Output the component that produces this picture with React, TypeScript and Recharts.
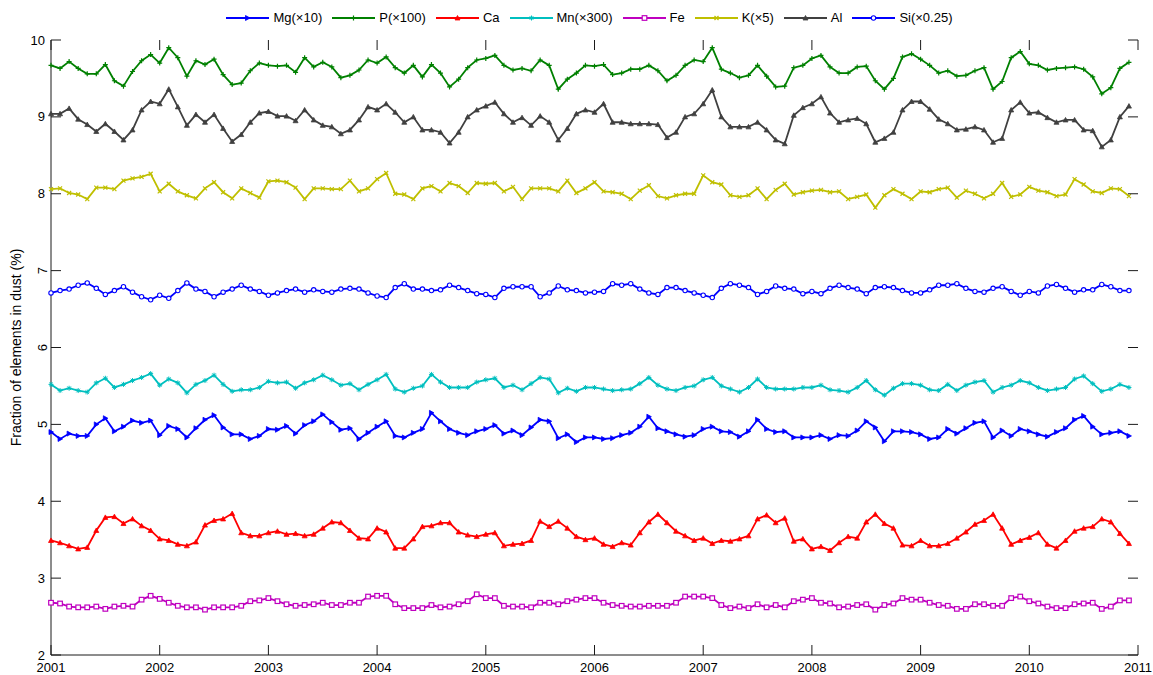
import React from 'react';
import { Line, LineChart, XAxis, YAxis } from 'recharts';

// monthly values, Jan 2001 .. Dec 2010
const MG = [
	4.90, 4.81, 4.88, 4.85, 4.85, 5.00, 5.08, 4.91, 4.97, 5.05, 5.02, 5.05, 4.86, 4.98, 4.94, 4.83, 4.95, 5.06, 5.12, 4.96, 4.87, 4.87, 4.81, 4.85, 4.94, 4.93, 4.98, 4.88, 4.99, 5.04, 5.13,
	5.03, 4.93, 4.95, 4.81, 4.89, 4.97, 5.04, 4.85, 4.83, 4.89, 4.94, 5.15, 5.04, 4.94, 4.89, 4.86, 4.91, 4.94, 4.99, 4.88, 4.92, 4.86, 4.96, 5.06, 5.04, 4.82, 4.87, 4.77, 4.83, 4.83, 4.81,
	4.82, 4.86, 4.89, 4.97, 5.10, 4.95, 4.91, 4.87, 4.84, 4.86, 4.94, 4.97, 4.91, 4.90, 4.84, 4.91, 5.06, 4.94, 4.90, 4.91, 4.83, 4.83, 4.83, 4.86, 4.81, 4.86, 4.85, 4.92, 5.04, 4.96, 4.78,
	4.91, 4.91, 4.90, 4.87, 4.81, 4.83, 4.94, 4.88, 4.95, 5.02, 5.04, 4.83, 4.92, 4.85, 4.94, 4.91, 4.87, 4.84, 4.90, 4.95, 5.06, 5.11, 4.97, 4.87, 4.89, 4.91, 4.85,
];
const P = [
	9.67, 9.63, 9.72, 9.63, 9.56, 9.56, 9.68, 9.47, 9.40, 9.59, 9.73, 9.81, 9.70, 9.90, 9.77, 9.53, 9.73, 9.68, 9.75, 9.55, 9.42, 9.44, 9.60, 9.70, 9.67, 9.66, 9.67, 9.58, 9.77, 9.65, 9.71,
	9.65, 9.51, 9.54, 9.61, 9.74, 9.70, 9.78, 9.64, 9.57, 9.67, 9.52, 9.68, 9.57, 9.39, 9.49, 9.64, 9.74, 9.76, 9.80, 9.67, 9.61, 9.63, 9.60, 9.74, 9.67, 9.36, 9.49, 9.57, 9.67, 9.66, 9.68,
	9.55, 9.57, 9.62, 9.62, 9.67, 9.60, 9.47, 9.54, 9.67, 9.74, 9.72, 9.90, 9.62, 9.57, 9.51, 9.54, 9.67, 9.53, 9.39, 9.40, 9.64, 9.67, 9.76, 9.80, 9.65, 9.57, 9.57, 9.65, 9.66, 9.47, 9.36,
	9.50, 9.78, 9.82, 9.75, 9.67, 9.57, 9.60, 9.53, 9.54, 9.60, 9.64, 9.36, 9.46, 9.77, 9.85, 9.69, 9.67, 9.61, 9.63, 9.64, 9.65, 9.62, 9.52, 9.30, 9.38, 9.63, 9.71,
];
const CA = [
	3.49, 3.46, 3.42, 3.38, 3.40, 3.62, 3.79, 3.80, 3.71, 3.77, 3.68, 3.62, 3.51, 3.49, 3.44, 3.42, 3.47, 3.69, 3.75, 3.77, 3.84, 3.59, 3.55, 3.55, 3.59, 3.61, 3.57, 3.58, 3.55, 3.57, 3.65,
	3.73, 3.72, 3.62, 3.52, 3.51, 3.65, 3.60, 3.39, 3.39, 3.51, 3.67, 3.68, 3.72, 3.72, 3.60, 3.56, 3.54, 3.57, 3.59, 3.42, 3.44, 3.45, 3.49, 3.74, 3.67, 3.74, 3.65, 3.54, 3.50, 3.52, 3.44,
	3.41, 3.46, 3.43, 3.59, 3.73, 3.83, 3.72, 3.61, 3.55, 3.49, 3.52, 3.45, 3.49, 3.48, 3.51, 3.55, 3.77, 3.82, 3.72, 3.78, 3.48, 3.51, 3.38, 3.41, 3.36, 3.46, 3.54, 3.52, 3.73, 3.83, 3.71,
	3.65, 3.43, 3.42, 3.49, 3.42, 3.42, 3.45, 3.52, 3.60, 3.70, 3.75, 3.83, 3.65, 3.44, 3.49, 3.53, 3.59, 3.44, 3.39, 3.49, 3.61, 3.65, 3.67, 3.77, 3.73, 3.58, 3.45,
];
const MN = [
	5.52, 5.44, 5.47, 5.44, 5.42, 5.54, 5.60, 5.48, 5.52, 5.57, 5.61, 5.66, 5.51, 5.59, 5.54, 5.41, 5.52, 5.57, 5.64, 5.52, 5.43, 5.45, 5.45, 5.48, 5.56, 5.54, 5.55, 5.47, 5.54, 5.58, 5.64,
	5.58, 5.51, 5.53, 5.45, 5.52, 5.58, 5.65, 5.46, 5.42, 5.47, 5.50, 5.65, 5.55, 5.48, 5.48, 5.48, 5.55, 5.58, 5.60, 5.48, 5.51, 5.45, 5.53, 5.61, 5.59, 5.41, 5.47, 5.43, 5.48, 5.48, 5.46,
	5.44, 5.45, 5.46, 5.53, 5.61, 5.51, 5.46, 5.44, 5.48, 5.50, 5.58, 5.61, 5.50, 5.46, 5.42, 5.48, 5.59, 5.48, 5.46, 5.46, 5.46, 5.48, 5.48, 5.51, 5.45, 5.44, 5.42, 5.48, 5.57, 5.45, 5.38,
	5.47, 5.53, 5.53, 5.51, 5.45, 5.44, 5.52, 5.44, 5.51, 5.55, 5.57, 5.42, 5.48, 5.51, 5.57, 5.54, 5.48, 5.44, 5.46, 5.48, 5.59, 5.63, 5.53, 5.43, 5.46, 5.52, 5.48,
];
const FE = [
	2.68, 2.67, 2.63, 2.62, 2.62, 2.63, 2.60, 2.63, 2.64, 2.63, 2.72, 2.77, 2.73, 2.68, 2.64, 2.62, 2.62, 2.59, 2.62, 2.62, 2.62, 2.64, 2.70, 2.71, 2.74, 2.70, 2.66, 2.64, 2.65, 2.66, 2.68,
	2.65, 2.65, 2.68, 2.68, 2.76, 2.77, 2.77, 2.66, 2.61, 2.61, 2.61, 2.65, 2.62, 2.63, 2.66, 2.70, 2.79, 2.74, 2.74, 2.64, 2.63, 2.63, 2.62, 2.68, 2.68, 2.66, 2.70, 2.72, 2.74, 2.74, 2.68,
	2.65, 2.64, 2.63, 2.63, 2.64, 2.64, 2.64, 2.68, 2.76, 2.76, 2.76, 2.74, 2.65, 2.61, 2.63, 2.61, 2.66, 2.62, 2.65, 2.62, 2.70, 2.72, 2.74, 2.68, 2.67, 2.62, 2.63, 2.65, 2.66, 2.59, 2.65,
	2.67, 2.74, 2.72, 2.72, 2.68, 2.65, 2.64, 2.60, 2.60, 2.66, 2.66, 2.64, 2.64, 2.74, 2.76, 2.70, 2.67, 2.63, 2.61, 2.61, 2.66, 2.67, 2.68, 2.60, 2.63, 2.71, 2.71,
];
const K = [
	8.06, 8.07, 8.01, 7.99, 7.93, 8.08, 8.08, 8.06, 8.17, 8.20, 8.22, 8.26, 8.03, 8.13, 8.03, 7.98, 7.94, 8.07, 8.15, 8.02, 7.94, 8.07, 8.01, 7.95, 8.16, 8.17, 8.15, 8.08, 7.93, 8.07, 8.07,
	8.06, 8.06, 8.17, 8.03, 8.07, 8.19, 8.27, 8.00, 7.99, 7.93, 8.07, 8.10, 8.03, 8.14, 8.10, 8.01, 8.14, 8.13, 8.14, 8.03, 8.09, 7.93, 8.07, 8.07, 8.07, 8.03, 8.17, 8.01, 8.07, 8.15, 8.03,
	8.02, 8.00, 7.93, 8.04, 8.11, 7.97, 7.94, 7.98, 8.00, 8.00, 8.24, 8.15, 8.12, 7.98, 7.96, 7.98, 8.07, 7.93, 8.05, 8.13, 7.99, 8.02, 8.04, 8.05, 8.02, 8.03, 7.93, 7.96, 7.99, 7.82, 7.98,
	8.06, 8.00, 7.93, 8.03, 8.02, 8.06, 8.08, 7.95, 8.04, 8.00, 7.94, 8.00, 8.14, 7.96, 7.99, 8.09, 8.04, 8.02, 7.97, 7.99, 8.19, 8.12, 8.03, 8.01, 8.07, 8.06, 7.97,
];
const AL = [
	9.04, 9.04, 9.11, 8.97, 8.90, 8.81, 8.91, 8.81, 8.70, 8.83, 9.09, 9.20, 9.17, 9.36, 9.13, 8.89, 9.03, 8.93, 9.03, 8.85, 8.68, 8.77, 8.93, 9.05, 9.07, 9.01, 9.01, 8.95, 9.09, 8.96, 8.89,
	8.87, 8.78, 8.83, 8.96, 9.13, 9.09, 9.17, 9.06, 8.93, 9.00, 8.83, 8.83, 8.80, 8.66, 8.80, 9.00, 9.09, 9.14, 9.19, 9.04, 8.93, 8.99, 8.89, 9.01, 8.93, 8.70, 8.85, 9.04, 9.09, 9.06, 9.17,
	8.93, 8.93, 8.91, 8.91, 8.91, 8.90, 8.73, 8.80, 9.00, 9.04, 9.17, 9.35, 9.00, 8.87, 8.87, 8.87, 8.93, 8.83, 8.70, 8.65, 9.02, 9.12, 9.17, 9.26, 9.05, 8.93, 8.96, 8.98, 8.91, 8.67, 8.72,
	8.80, 9.09, 9.20, 9.20, 9.10, 8.97, 8.91, 8.83, 8.84, 8.87, 8.83, 8.67, 8.72, 9.09, 9.19, 9.05, 9.06, 8.99, 8.93, 8.96, 8.96, 8.83, 8.82, 8.61, 8.70, 9.00, 9.14,
];
const SI = [
	6.71, 6.74, 6.76, 6.81, 6.84, 6.77, 6.69, 6.74, 6.79, 6.72, 6.66, 6.62, 6.68, 6.64, 6.74, 6.84, 6.76, 6.73, 6.66, 6.72, 6.76, 6.81, 6.76, 6.73, 6.68, 6.71, 6.74, 6.76, 6.72, 6.75, 6.73,
	6.72, 6.76, 6.77, 6.76, 6.71, 6.67, 6.65, 6.78, 6.83, 6.76, 6.76, 6.74, 6.75, 6.81, 6.78, 6.74, 6.70, 6.69, 6.65, 6.77, 6.79, 6.79, 6.79, 6.66, 6.71, 6.80, 6.75, 6.74, 6.71, 6.72, 6.73,
	6.83, 6.81, 6.83, 6.76, 6.71, 6.69, 6.78, 6.78, 6.74, 6.71, 6.68, 6.65, 6.77, 6.83, 6.81, 6.78, 6.69, 6.73, 6.80, 6.77, 6.76, 6.70, 6.73, 6.70, 6.77, 6.81, 6.78, 6.76, 6.70, 6.78, 6.79,
	6.78, 6.74, 6.71, 6.71, 6.75, 6.81, 6.81, 6.83, 6.77, 6.73, 6.72, 6.77, 6.79, 6.73, 6.68, 6.73, 6.71, 6.80, 6.82, 6.77, 6.72, 6.75, 6.75, 6.82, 6.79, 6.74, 6.74,
];

const YEAR_TICKS = [2001, 2002, 2003, 2004, 2005, 2006, 2007, 2008, 2009, 2010, 2011];
const Y_TICKS = [2, 3, 4, 5, 6, 7, 8, 9, 10];
// in the original export these tick labels come out turned sideways
const SIDEWAYS_Y_TICKS = [5, 6, 7];

const SERIES = [
	{ key: 'Mg', name: 'Mg(×10)', values: MG, color: '#0000ff', marker: 'triRight' },
	{ key: 'P', name: 'P(×100)', values: P, color: '#008000', marker: 'plus' },
	{ key: 'Ca', name: 'Ca', values: CA, color: '#ff0000', marker: 'triUp' },
	{ key: 'Mn', name: 'Mn(×300)', values: MN, color: '#00bfbf', marker: 'star' },
	{ key: 'Fe', name: 'Fe', values: FE, color: '#bf00bf', marker: 'square' },
	{ key: 'K', name: 'K(×5)', values: K, color: '#bfbf00', marker: 'x' },
	{ key: 'Al', name: 'Al', values: AL, color: '#404040', marker: 'triUp' },
	{ key: 'Si', name: 'Si(×0.25)', values: SI, color: '#0000ff', marker: 'circle' },
];

const data = MG.map((_, i) => {
	const row: any = { t: 2001 + i / 12 };
	SERIES.forEach(s => { row[s.key] = s.values[i]; });
	return row;
});

const FONT = '"Liberation Sans", Arial, sans-serif';
// plot box edges (chart margins below put it here), for the inward tick marks
const PLOT_LEFT = 51;
const PLOT_TOP = 40;
const PLOT_RIGHT = 1138;
const PLOT_BOTTOM = 655;
const TICK_LEN = 10;
const AXIS_COLOR = '#1a1a1a';

function Marker({ cx, cy, shape, color }: any) {
	if (cx == null || cy == null) return null;
	switch (shape) {
		case 'triRight':
			return <polygon points={`${cx - 2},${cy - 2.5} ${cx + 2.5},${cy} ${cx - 2},${cy + 2.5}`} fill={color} stroke={color} strokeWidth={0.8} />;
		case 'triUp':
			return <polygon points={`${cx},${cy - 2.5} ${cx + 2.5},${cy + 2} ${cx - 2.5},${cy + 2}`} fill={color} stroke={color} strokeWidth={0.8} />;
		case 'plus':
			return <path d={`M${cx - 2.5},${cy}H${cx + 2.5}M${cx},${cy - 2.5}V${cy + 2.5}`} stroke={color} strokeWidth={1.2} />;
		case 'star':
			return <path d={`M${cx - 2.5},${cy}H${cx + 2.5}M${cx},${cy - 2.5}V${cy + 2.5}M${cx - 1.8},${cy - 1.8}L${cx + 1.8},${cy + 1.8}M${cx - 1.8},${cy + 1.8}L${cx + 1.8},${cy - 1.8}`} stroke={color} strokeWidth={1} />;
		case 'x':
			return <path d={`M${cx - 2},${cy - 2}L${cx + 2},${cy + 2}M${cx - 2},${cy + 2}L${cx + 2},${cy - 2}`} stroke={color} strokeWidth={1.2} />;
		case 'square':
			return <rect x={cx - 2.3} y={cy - 2.3} width={4.6} height={4.6} fill="#fff" stroke={color} strokeWidth={1.2} />;
		case 'circle':
			return <circle cx={cx} cy={cy} r={2.2} fill="#fff" stroke={color} strokeWidth={1.1} />;
		default:
			return null;
	}
}

const makeDot = (shape: string, color: string) => (props: any) => (
	<g key={`${shape}-${props.index}`}>
		<Marker cx={props.cx} cy={props.cy} shape={shape} color={color} />
	</g>
);

// x tick: label below, tick marks pointing into the plot at bottom and top
const YearTick = (props: any) => {
	const { x, payload } = props;
	return (
		<g>
			<line x1={x} y1={PLOT_BOTTOM} x2={x} y2={PLOT_BOTTOM - TICK_LEN} stroke={AXIS_COLOR} strokeWidth={1} />
			<line x1={x} y1={PLOT_TOP} x2={x} y2={PLOT_TOP + TICK_LEN} stroke={AXIS_COLOR} strokeWidth={1} />
			<text x={x} y={PLOT_BOTTOM + 17} textAnchor="middle" fontSize={13} fontFamily={FONT} fill="#000">
				{payload.value}
			</text>
		</g>
	);
};

// y tick: label left, tick marks pointing into the plot at left and right
const ValueTick = (props: any) => {
	const { y, payload } = props;
	const sideways = SIDEWAYS_Y_TICKS.includes(payload.value);
	return (
		<g>
			<line x1={PLOT_LEFT} y1={y} x2={PLOT_LEFT + TICK_LEN} y2={y} stroke={AXIS_COLOR} strokeWidth={1} />
			<line x1={PLOT_RIGHT} y1={y} x2={PLOT_RIGHT - TICK_LEN} y2={y} stroke={AXIS_COLOR} strokeWidth={1} />
			{sideways ? (
				<text x={PLOT_LEFT - 4} y={y} transform={`rotate(-90, ${PLOT_LEFT - 4}, ${y})`} textAnchor="middle" fontSize={13} fontFamily={FONT} fill="#000">
					{payload.value}
				</text>
			) : (
				<text x={PLOT_LEFT - 6} y={y + 4.5} textAnchor="end" fontSize={13} fontFamily={FONT} fill="#000">
					{payload.value}
				</text>
			)}
		</g>
	);
};

const ChartLegend = () => (
	<div style={{
		position: 'absolute', left: 0, top: 10, width: 1189, display: 'flex',
		justifyContent: 'center', fontFamily: FONT, fontSize: 13, color: '#000', lineHeight: '16px'
	}}>
		{SERIES.map(s => (
			<div key={s.key} style={{ display: 'flex', alignItems: 'center', marginRight: 10 }}>
				<svg width={43} height={12}>
					<line x1={0} y1={6} x2={43} y2={6} stroke={s.color} strokeWidth={1.8} />
					<Marker cx={21.5} cy={6} shape={s.marker} color={s.color} />
				</svg>
				<span style={{ marginLeft: 4 }}>{s.name}</span>
			</div>
		))}
	</div>
);

const App: React.FC = () => {
	return (
		<div style={{ position: 'absolute', left: 0, top: 0, width: 1153, height: 675, background: '#fff' }}>
			<ChartLegend />
			<LineChart
				width={1153}
				height={675}
				data={data}
				margin={{ top: 40, right: 15, left: 0, bottom: 0 }}
			>
				<XAxis
					dataKey="t"
					type="number"
					domain={[2001, 2011]}
					ticks={YEAR_TICKS}
					interval={0}
					height={20}
					tickSize={0}
					tickMargin={0}
					tickLine={false}
					stroke={AXIS_COLOR}
					tick={<YearTick />}
				/>
				<XAxis
					xAxisId="top"
					dataKey="t"
					type="number"
					orientation="top"
					domain={[2001, 2011]}
					height={0}
					tick={false}
					tickLine={false}
					stroke={AXIS_COLOR}
				/>
				<YAxis
					domain={[2, 10]}
					ticks={Y_TICKS}
					interval={0}
					width={51}
					tickSize={0}
					tickMargin={0}
					tickLine={false}
					stroke={AXIS_COLOR}
					tick={<ValueTick />}
					label={{
						value: 'Fraction of elements in dust (%)',
						angle: -90,
						position: 'insideLeft',
						offset: 16,
						style: { textAnchor: 'middle', fontSize: 14, fontFamily: FONT, fill: '#000' }
					}}
				/>
				<YAxis
					yAxisId="right"
					orientation="right"
					domain={[2, 10]}
					width={0}
					tick={false}
					tickLine={false}
					stroke={AXIS_COLOR}
				/>
				{SERIES.map(s => (
					<Line
						key={s.key}
						type="linear"
						dataKey={s.key}
						name={s.name}
						stroke={s.color}
						strokeWidth={1.8}
						dot={makeDot(s.marker, s.color)}
						activeDot={false}
						isAnimationActive={false}
					/>
				))}
			</LineChart>
		</div>
	);
};

export default App;
